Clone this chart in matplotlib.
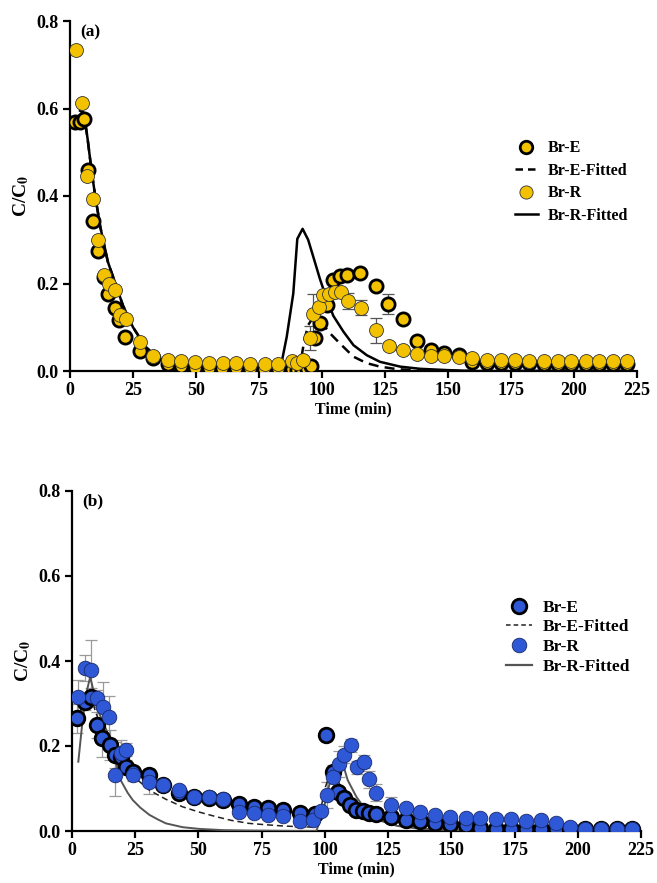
import matplotlib
matplotlib.use("Agg")
import matplotlib.pyplot as plt
from matplotlib.lines import Line2D

plt.rcParams['font.family'] = ['Liberation Serif', 'DejaVu Serif']
plt.rcParams['font.weight'] = 'bold'
plt.rcParams['mathtext.fontset'] = 'stix'
plt.rcParams['mathtext.default'] = 'bf'

# ---------------- Panel (a) data ----------------
a_E_x = [2, 4, 5.5, 7, 9.3, 11.3, 13.3, 15.2, 17.9, 19.6, 22, 27.6, 33, 38.8, 44, 49.5, 55, 60.5, 66, 71.5,
         77, 82.5, 88, 90, 92, 94, 95.5, 97.2, 99.2, 101.9, 104.5, 107.1, 109.8, 115.1, 121.4, 126.3, 132.3,
         137.6, 143.3, 148.6, 154.2, 159.7, 165.4, 171, 176.5, 182, 188, 193.5, 199, 204.7, 210, 215.6, 221.2]
a_E_y = [0.57, 0.57, 0.575, 0.46, 0.343, 0.274, 0.215, 0.176, 0.145, 0.116, 0.077, 0.045, 0.029, 0.016, 0.012,
         0.008, 0.007, 0.006, 0.006, 0.005, 0.005, 0.004, 0.004, 0.003, 0.003, 0.005, 0.011, 0.075, 0.109, 0.150,
         0.207, 0.217, 0.219, 0.223, 0.194, 0.153, 0.120, 0.069, 0.049, 0.042, 0.037, 0.020, 0.019, 0.019,
         0.018, 0.018, 0.017, 0.017, 0.017, 0.017, 0.016, 0.016, 0.016]
a_E_err = [0] * 35 + [0.022] + [0] * 17

a_R_x = [2.4, 4.6, 6.9, 9.3, 11.3, 13.5, 15.6, 17.9, 19.9, 22.2, 27.6, 33.1, 38.8, 44.1, 49.8, 55.1, 60.6, 66,
         71.6, 77.4, 82.7, 88.2, 90, 92.6, 95.2, 96.6, 98.9, 100.5, 102.9, 105, 107.7, 110.3, 115.4, 121.4,
         126.7, 132.3, 137.6, 143.3, 148.6, 154.2, 159.5, 165.4, 171, 176.5, 182, 188, 193.5, 199, 204.7,
         210, 215.6, 221.2]
a_R_y = [0.733, 0.612, 0.445, 0.394, 0.299, 0.219, 0.198, 0.185, 0.128, 0.119, 0.067, 0.034, 0.025, 0.024,
         0.020, 0.019, 0.019, 0.018, 0.017, 0.016, 0.016, 0.022, 0.019, 0.025, 0.075, 0.131, 0.147, 0.173,
         0.177, 0.181, 0.181, 0.160, 0.145, 0.093, 0.057, 0.048, 0.039, 0.034, 0.034, 0.032, 0.029, 0.025,
         0.025, 0.025, 0.024, 0.022, 0.022, 0.022, 0.022, 0.022, 0.022, 0.022]
a_R_err = [0] * 24 + [0.027, 0.045] + [0] * 5 + [0.018, 0.018, 0.028, 0.01] + [0] * 17

a_fitR_x = [4, 5.5, 7, 8.5, 10, 12, 15, 18, 21, 25, 30, 35, 40, 45, 50, 60, 70, 83.3, 86, 88.6, 90.2, 92.3,
            94.5, 96.6, 99.2, 101.9, 104.5, 108.5, 112.5, 117.8, 123, 131, 139, 150, 160, 221]
a_fitR_y = [0.595, 0.59, 0.53, 0.46, 0.40, 0.33, 0.25, 0.20, 0.15, 0.10, 0.055, 0.03, 0.015, 0.007, 0.003,
            0.001, 0.0, 0.0, 0.078, 0.177, 0.302, 0.325, 0.30, 0.26, 0.21, 0.164, 0.126, 0.09, 0.059, 0.036,
            0.021, 0.01, 0.005, 0.002, 0.0, 0.0]

a_fitE_x = [4, 5.5, 7, 8.5, 10, 12, 15, 18, 21, 25, 30, 35, 40, 45, 50, 60, 70, 90.5, 91.5, 93, 94.5, 96,
            97.5, 99, 101, 103.2, 107.1, 112.4, 117.7, 123, 130, 140, 150, 221]
a_fitE_y = [0.595, 0.59, 0.53, 0.46, 0.40, 0.33, 0.25, 0.20, 0.15, 0.10, 0.055, 0.03, 0.015, 0.007, 0.003,
            0.001, 0.0, 0.0, 0.02, 0.07, 0.105, 0.118, 0.12, 0.115, 0.102, 0.086, 0.063, 0.033, 0.018, 0.01,
            0.004, 0.001, 0.0, 0.0]

# ---------------- Panel (b) data ----------------
b_E_x = [2.1, 5.1, 7.7, 9.9, 12, 14.9, 16.9, 19.2, 21.5, 24.1, 30.6, 35.8, 42.4, 48.2, 54.1, 59.9, 65.9, 71.8,
         77.6, 83.5, 90, 95.9, 100.5, 103.1, 105.1, 107.7, 110, 112.3, 114.9, 117.5, 120.1, 126, 131.9, 137.8,
         143.6, 149.5, 155.8, 161.5, 167.5, 173.6, 179.5, 185.4, 191.2, 197.1, 203, 209.2, 215.4, 221.3]
b_E_y = [0.265, 0.304, 0.316, 0.249, 0.218, 0.202, 0.179, 0.175, 0.151, 0.140, 0.132, 0.108, 0.089, 0.081,
         0.077, 0.073, 0.064, 0.057, 0.053, 0.049, 0.042, 0.040, 0.226, 0.140, 0.092, 0.077, 0.061, 0.049,
         0.046, 0.042, 0.039, 0.034, 0.026, 0.024, 0.018, 0.017, 0.014, 0.006, 0.005, 0.005, 0.005, 0.005,
         0.005, 0.005, 0.005, 0.005, 0.005, 0.005]
b_E_err = [0.035, 0.02, 0.02, 0.03, 0.045, 0.035, 0.03, 0.02, 0.015, 0.01, 0.015, 0.008, 0.008, 0.006, 0.005,
           0.006, 0.006, 0.006, 0.006, 0.006, 0.006, 0.005, 0.005, 0.01, 0.01, 0.008, 0.008, 0.008, 0.008,
           0.008, 0.008, 0.006, 0.005, 0.005, 0.004, 0.004, 0.004, 0.003, 0.003, 0.003, 0.003, 0.003, 0.003,
           0.003, 0.003, 0.003, 0.003, 0.003]

b_R_x = [2.5, 5.1, 7.7, 9.9, 12.2, 14.5, 16.9, 19.2, 21.5, 24.1, 30.6, 35.8, 42.4, 48.2, 54.1, 59.9, 65.9,
         71.8, 77.6, 83.5, 90, 95.3, 98.3, 100.9, 103.1, 105.4, 107.7, 110.3, 112.6, 115.3, 117.5, 120.1, 126,
         131.9, 137.8, 143.6, 149.5, 155.8, 161.5, 167.5, 173.6, 179.5, 185.4, 191.2, 197.1, 203, 209.2, 215.4,
         221.3]
b_R_y = [0.316, 0.383, 0.379, 0.312, 0.291, 0.268, 0.132, 0.183, 0.191, 0.132, 0.116, 0.108, 0.096, 0.081,
         0.079, 0.075, 0.045, 0.043, 0.038, 0.035, 0.024, 0.026, 0.047, 0.085, 0.126, 0.158, 0.179, 0.202,
         0.150, 0.163, 0.122, 0.090, 0.061, 0.053, 0.045, 0.038, 0.034, 0.031, 0.030, 0.029, 0.029, 0.024,
         0.026, 0.020, 0.010, 0.005, 0.005, 0.005, 0.005]
b_R_err = [0.04, 0.03, 0.07, 0.02, 0.06, 0.05, 0.05, 0.03, 0.015, 0.015, 0.03, 0.01, 0.01, 0.008, 0.006,
           0.006, 0.01, 0.01, 0.01, 0.01, 0.015, 0.01, 0.01, 0.03, 0.03, 0.03, 0.02, 0.015, 0.015, 0.015,
           0.02, 0.02, 0.02, 0.01, 0.008, 0.006, 0.005, 0.005, 0.005, 0.005, 0.005, 0.005, 0.005, 0.005,
           0.004, 0.003, 0.003, 0.003, 0.003]

b_fitR_x = [2.5, 4, 5.5, 7.2, 8.5, 9.8, 12, 14.1, 16.7, 19.2, 22, 24, 27, 30.6, 34, 37.1, 43.7, 50.2, 60, 70,
            80, 90, 96.6, 99, 101, 103, 105.8, 107.5, 109, 112.4, 115.7, 120.9, 128.6, 136.5, 145, 160, 180,
            221]
b_fitR_y = [0.163, 0.25, 0.32, 0.363, 0.33, 0.29, 0.26, 0.23, 0.175, 0.12, 0.09, 0.073, 0.055, 0.038, 0.027,
            0.018, 0.009, 0.005, 0.002, 0.001, 0.0005, 0.0, 0.0, 0.04, 0.09, 0.14, 0.168, 0.15, 0.12, 0.081,
            0.053, 0.026, 0.012, 0.006, 0.003, 0.001, 0.0, 0.0]

b_fitE_x = [2, 5, 7.5, 9.3, 12, 15, 18, 21, 25, 30.6, 37, 43.7, 50, 56.8, 63, 69.9, 76, 83, 90, 96, 98, 100,
            102, 103.5, 105, 107, 110, 115, 120, 125, 130, 140, 150, 170, 200, 221]
b_fitE_y = [0.26, 0.31, 0.32, 0.28, 0.24, 0.2, 0.17, 0.15, 0.125, 0.096, 0.075, 0.057, 0.045, 0.034, 0.025,
            0.018, 0.015, 0.012, 0.01, 0.009, 0.04, 0.1, 0.135, 0.14, 0.12, 0.095, 0.07, 0.045, 0.03, 0.02,
            0.013, 0.006, 0.003, 0.001, 0.0, 0.0]

x_ticks = [0, 25, 50, 75, 100, 125, 150, 175, 200, 225]
y_ticks = [0.0, 0.2, 0.4, 0.6, 0.8]
legend_labels = ['Br-E', 'Br-E-Fitted', 'Br-R', 'Br-R-Fitted']

YELLOW = '#F2C200'
BLUE = '#2F58D6'

fig = plt.figure(figsize=(6.57, 8.83), dpi=100)
ax1 = fig.add_axes([70 / 657, 1 - 371 / 883, 567 / 657, 350 / 883])
ax2 = fig.add_axes([72 / 657, 1 - 831 / 883, 569 / 657, 340 / 883])


def style_axes(ax, label):
    ax.set_xlim(0, 225)
    ax.set_ylim(0, 0.8)
    ax.set_xticks(x_ticks)
    ax.set_yticks(y_ticks)
    ax.set_yticklabels([f'{v:.1f}' for v in y_ticks])
    for s in ['top', 'right']:
        ax.spines[s].set_visible(False)
    for s in ['left', 'bottom']:
        ax.spines[s].set_linewidth(1.6)
    ax.tick_params(axis='both', direction='out', width=1.6, length=5, labelsize=13, pad=3)
    for t in ax.get_xticklabels() + ax.get_yticklabels():
        t.set_fontweight('bold')
    ax.set_xlabel('Time (min)', fontsize=11.5, fontweight='bold', labelpad=2)
    ax.set_ylabel('C/C$_{0}$', fontsize=14, fontweight='bold', labelpad=4)
    ax.text(4, 0.775, label, fontsize=12.5, fontweight='bold', va='center')


# ----- Panel (a) -----
ax = ax1
ax.errorbar(a_R_x, a_R_y, yerr=a_R_err, fmt='none', ecolor='#555555', elinewidth=0.9, capsize=4,
            capthick=0.9, zorder=2)
ax.errorbar(a_E_x, a_E_y, yerr=a_E_err, fmt='none', ecolor='#555555', elinewidth=0.9, capsize=4,
            capthick=0.9, zorder=2)
ax.plot(a_fitE_x, a_fitE_y, color='black', lw=1.8, ls=(0, (4, 2.5)), zorder=3)
ax.plot(a_fitR_x, a_fitR_y, color='black', lw=1.8, ls='-', zorder=3)
ax.plot(a_E_x, a_E_y, 'o', ms=9.5, mfc=YELLOW, mec='black', mew=2.0, ls='none', zorder=4)
ax.plot(a_R_x, a_R_y, 'o', ms=10, mfc=YELLOW, mec='#333333', mew=0.6, ls='none', zorder=5)
style_axes(ax, '(a)')
handles_a = [
    Line2D([], [], marker='o', ms=9, mfc=YELLOW, mec='black', mew=2.0, ls='none'),
    Line2D([], [], color='black', lw=1.8, ls=(0, (3, 2))),
    Line2D([], [], marker='o', ms=9.5, mfc=YELLOW, mec='#333333', mew=0.6, ls='none'),
    Line2D([], [], color='black', lw=1.8, ls='-'),
]
leg = ax.legend(handles_a, legend_labels, loc='center left', bbox_to_anchor=(0.76, 0.54), frameon=False,
                fontsize=11.5, handlelength=1.4, handletextpad=0.6, labelspacing=0.4)
for t in leg.get_texts():
    t.set_fontweight('bold')

# ----- Panel (b) -----
ax = ax2
ax.errorbar(b_R_x, b_R_y, yerr=b_R_err, fmt='none', ecolor='#9a9a9a', elinewidth=0.9, capsize=4,
            capthick=0.9, zorder=2)
ax.errorbar(b_E_x, b_E_y, yerr=b_E_err, fmt='none', ecolor='#9a9a9a', elinewidth=0.9, capsize=4,
            capthick=0.9, zorder=2)
ax.plot(b_fitE_x, b_fitE_y, color='#222222', lw=1.1, ls=(0, (4, 2.5)), zorder=3)
ax.plot(b_fitR_x, b_fitR_y, color='#555555', lw=1.4, ls='-', zorder=3)
ax.plot(b_E_x, b_E_y, 'o', ms=10.5, mfc=BLUE, mec='black', mew=2.0, ls='none', zorder=4)
ax.plot(b_R_x, b_R_y, 'o', ms=10.5, mfc=BLUE, mec='#1a2a6a', mew=0.6, ls='none', zorder=5)
style_axes(ax, '(b)')
handles_b = [
    Line2D([], [], marker='o', ms=10.5, mfc=BLUE, mec='black', mew=2.0, ls='none'),
    Line2D([], [], color='#222222', lw=1.1, ls=(0, (3, 2))),
    Line2D([], [], marker='o', ms=10.5, mfc=BLUE, mec='#1a2a6a', mew=0.6, ls='none'),
    Line2D([], [], color='#555555', lw=1.6, ls='-'),
]
leg = ax.legend(handles_b, legend_labels, loc='center left', bbox_to_anchor=(0.735, 0.57), frameon=False,
                fontsize=12.5, handlelength=1.5, handletextpad=0.6, labelspacing=0.2)
for t in leg.get_texts():
    t.set_fontweight('bold')

fig.savefig('out.png', dpi=100)
